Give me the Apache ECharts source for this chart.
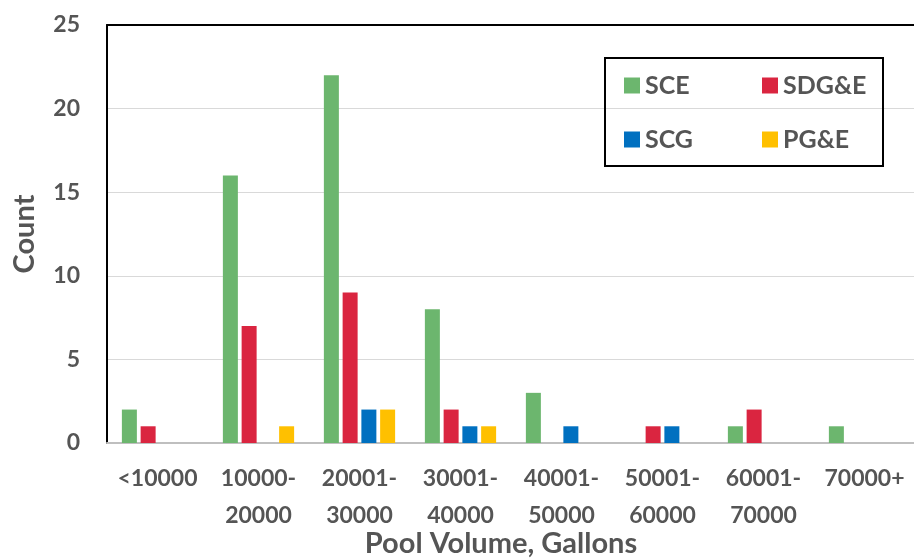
<!DOCTYPE html>
<html>
<head>
<meta charset="utf-8">
<script src="https://cdn.jsdelivr.net/npm/echarts@6/dist/echarts.min.js"></script>
<style>
  html, body { margin: 0; padding: 0; background: #fff; }
  #chart { width: 914px; height: 560px; }
</style>
</head>
<body>
<div id="chart"></div>
<script>
// Pool volume bins (gallons)
const categories = ['<10000', '10000-\n20000', '20001-\n30000', '30001-\n40000',
                    '40001-\n50000', '50001-\n60000', '60001-\n70000', '70000+'];

// Number of pools per utility in each bin
const sce  = [2, 16, 22, 8, 3, 0, 1, 1];
const sdge = [1, 7, 9, 2, 0, 1, 2, 0];
const scg  = [0, 0, 2, 1, 1, 1, 0, 0];
const pge  = [0, 1, 2, 1, 0, 0, 0, 0];

const seriesNames = ['SCE', 'SDG&E', 'SCG', 'PG&E'];
const seriesData = [sce, sdge, scg, pge];
const colors = ['#6cb66e', '#da2540', '#0070c0', '#ffc000'];

const yTicks = { min: 0, max: 25, interval: 5 };

const FONT = 'Lato';
const TEXT = '#555555';

const chart = echarts.init(document.getElementById('chart'), null, { renderer: 'canvas' });

chart.setOption({
  animation: false,
  color: colors,
  textStyle: { fontFamily: FONT },
  grid: { left: 107, right: -1, top: 25, bottom: 117, outerBoundsMode: 'none', containLabel: false },
  legend: {
    left: 605,
    top: 58,
    width: 262,
    orient: 'horizontal',
    padding: [14, 10, 13, 19],
    borderColor: '#000',
    borderWidth: 2,
    itemWidth: 16,
    itemHeight: 16,
    itemGap: 27,
    icon: 'rect',
    data: seriesNames,
    textStyle: {
      fontFamily: FONT,
      fontWeight: 'bold',
      fontSize: 25,
      color: TEXT,
      width: 90,
      lineHeight: 27
    }
  },
  xAxis: [{
    type: 'category',
    data: categories,
    name: 'Pool Volume, Gallons',
    nameLocation: 'middle',
    nameGap: 86,
    nameMoveOverlap: false,
    nameTextStyle: {
      fontFamily: FONT, fontWeight: 'bold', fontSize: 29, color: TEXT,
      padding: [0, 20, 0, 0]
    },
    axisLine: { lineStyle: { color: '#bfbfbf', width: 2 } },
    axisTick: { show: false },
    axisLabel: {
      interval: 0,
      margin: 17,
      fontFamily: FONT, fontWeight: 'bold', fontSize: 23, color: TEXT,
      lineHeight: 37
    }
  }, {
    type: 'category',
    position: 'top',
    data: categories,
    axisLine: { lineStyle: { color: '#000', width: 2 } },
    axisTick: { show: false },
    axisLabel: { show: false }
  }],
  yAxis: {
    type: 'value',
    min: yTicks.min,
    max: yTicks.max,
    interval: yTicks.interval,
    name: 'Count',
    nameLocation: 'middle',
    nameGap: 68,
    nameMoveOverlap: false,
    nameTextStyle: { fontFamily: FONT, fontWeight: 'bold', fontSize: 29, color: TEXT },
    axisLine: { show: true, lineStyle: { color: '#000', width: 2 } },
    axisTick: { show: false },
    axisLabel: {
      margin: 27,
      fontFamily: FONT, fontWeight: 'bold', fontSize: 23, color: TEXT
    },
    splitLine: { show: true, lineStyle: { color: '#d9d9d9', width: 1 } }
  },
  series: seriesNames.map((name, i) => ({
    name,
    type: 'bar',
    data: seriesData[i],
    barWidth: 15,
    barGap: '25%',
    itemStyle: { color: colors[i] }
  }))
});
</script>
</body>
</html>
